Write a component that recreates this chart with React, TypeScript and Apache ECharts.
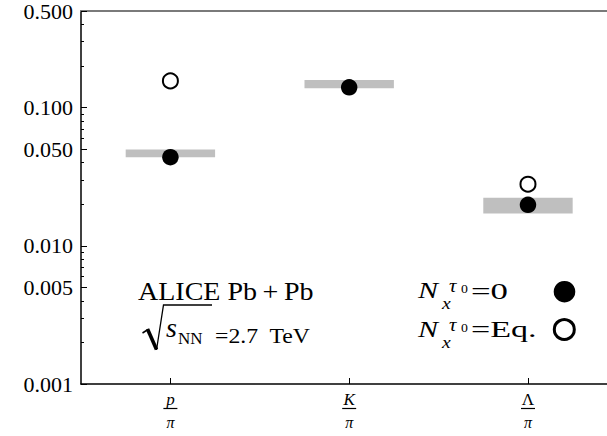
import React, { useEffect, useRef } from 'react';
import * as echarts from 'echarts';

const categories = ['p', 'K', 'Λ'];
const categoryItalic = [true, true, false];
const catX = [1, 2, 3];
const bandLow = [0.0437, 0.138, 0.0171];
const bandHigh = [0.0498, 0.1586, 0.0223];
const zeroInit = [0.0438, 0.1403, 0.0198];
const eqInit: (number | null)[] = [0.156, null, 0.0279];
const majorTicks = [0.001, 0.005, 0.01, 0.05, 0.1, 0.5];
const minorTicks = [0.002, 0.003, 0.004, 0.006, 0.007, 0.008, 0.009, 0.02, 0.03, 0.04, 0.06, 0.07, 0.08, 0.09, 0.2, 0.3, 0.4];

const SERIF = "'Liberation Serif', 'Times New Roman', serif";
const lg = (v: number) => Math.log10(v);
const X_MIN = 0.5;
const X_MAX = 3.442;
const Y_MIN = lg(0.001);
const Y_MAX = lg(0.5);

function txt(text: string, x: number, y: number, size: number, opts: any = {}) {
  return {
    type: 'text',
    x,
    y,
    scaleX: opts.scaleX ?? 1,
    z: 10,
    style: {
      text,
      fontFamily: SERIF,
      fontSize: size,
      fontStyle: opts.italic ? 'italic' : 'normal',
      fill: '#000',
      align: 'left',
      verticalAlign: 'middle',
    },
  };
}

function legendLine(dy: number, rhs: string, rhsScale: number) {
  return [
    txt('N', 418, 290.5 + dy, 24, { italic: true, scaleX: 1.25 }),
    txt('x', 442, 303.5 + dy, 17, { italic: true, scaleX: 1.15 }),
    txt('τ', 449, 286 + dy, 18, { italic: true, scaleX: 1.15 }),
    txt('0', 461, 289 + dy, 12, { scaleX: 1.15 }),
    txt(rhs, 471, 290.5 + dy, 24, { scaleX: rhsScale }),
  ];
}

export default function App() {
  const ref = useRef<HTMLDivElement>(null);
  useEffect(() => {
    const chart = echarts.init(ref.current!, null, { renderer: 'svg' });
    const bandData = catX.map((x, i) => [x, lg(bandLow[i]), lg(bandHigh[i])]);
    const zeroData = catX.map((x, i) => [x, lg(zeroInit[i])]);
    const eqData = catX.map((x, i) => (eqInit[i] == null ? [x, '-'] : [x, lg(eqInit[i] as number)]));

    const option: any = {
      animation: false,
      backgroundColor: '#fff',
      grid: { left: 81, top: 9, right: 0, bottom: 52, containLabel: false },
      xAxis: [
        {
          type: 'value',
          min: X_MIN,
          max: X_MAX,
          position: 'bottom',
          axisLine: { show: true, lineStyle: { color: '#000', width: 1.5 } },
          axisTick: { show: true, inside: true, length: 6, customValues: catX, lineStyle: { color: '#000', width: 1 } },
          splitLine: { show: false },
          axisLabel: {
            show: true,
            customValues: catX,
            margin: 8,
            formatter: (v: number) => {
              const i = catX.indexOf(Math.round(v));
              if (i < 0) return '';
              const st = categoryItalic[i] ? 'ni' : 'nu';
              return `{${st}|${categories[i]}}\n{bar| }\n{d|π}`;
            },
            rich: {
              ni: { fontFamily: SERIF, fontStyle: 'italic', fontSize: 17, lineHeight: 15, color: '#000', align: 'center' },
              nu: { fontFamily: SERIF, fontSize: 17, lineHeight: 15, color: '#000', align: 'center' },
              bar: { width: 14, height: 1.2, fontSize: 1, lineHeight: 3, backgroundColor: '#000', align: 'center' },
              d: { fontFamily: SERIF, fontStyle: 'italic', fontSize: 16, lineHeight: 24, color: '#000', align: 'center' },
            },
          },
        },
        {
          type: 'value',
          min: X_MIN,
          max: X_MAX,
          position: 'top',
          axisLine: { show: true, lineStyle: { color: '#7a7a7a', width: 2 } },
          axisTick: { show: false },
          axisLabel: { show: false },
          splitLine: { show: false },
        },
      ],
      yAxis: [
        {
          type: 'value',
          min: Y_MIN,
          max: Y_MAX,
          position: 'left',
          axisLine: { show: true, lineStyle: { color: '#000', width: 1.5 } },
          axisTick: { show: true, inside: true, length: 6, customValues: majorTicks.map(lg), lineStyle: { color: '#000', width: 1 } },
          axisLabel: {
            show: true,
            customValues: majorTicks.map(lg),
            margin: 8,
            fontFamily: SERIF,
            fontSize: 22,
            color: '#000',
            formatter: (v: number) => Math.pow(10, v).toFixed(3),
          },
          splitLine: { show: false },
        },
        {
          type: 'value',
          min: Y_MIN,
          max: Y_MAX,
          position: 'left',
          axisLine: { show: false },
          axisTick: { show: true, inside: true, length: 3, customValues: minorTicks.map(lg), lineStyle: { color: '#000', width: 1 } },
          axisLabel: { show: false },
          splitLine: { show: false },
        },
      ],
      series: [
        {
          type: 'custom',
          xAxisIndex: 0,
          yAxisIndex: 0,
          data: bandData,
          encode: { x: 0, y: [1, 2] },
          z: 1,
          renderItem: (params: any, api: any) => {
            const x = api.value(0);
            const p1 = api.coord([x - 0.25, api.value(2)]);
            const p2 = api.coord([x + 0.25, api.value(1)]);
            return {
              type: 'rect',
              shape: { x: p1[0], y: p1[1], width: p2[0] - p1[0], height: p2[1] - p1[1] },
              style: { fill: '#bfbfbf' },
            };
          },
        },
        {
          type: 'scatter',
          xAxisIndex: 0,
          yAxisIndex: 0,
          data: eqData,
          symbol: 'circle',
          symbolSize: 15,
          z: 3,
          itemStyle: { color: '#fff', borderColor: '#000', borderWidth: 2, opacity: 1 },
        },
        {
          type: 'scatter',
          xAxisIndex: 0,
          yAxisIndex: 0,
          data: zeroData,
          symbol: 'circle',
          symbolSize: 16.5,
          z: 4,
          itemStyle: { color: '#000', opacity: 1 },
        },
      ],
      graphic: [
        txt('ALICE Pb\u2009+\u2009Pb', 138, 291.5, 25, { scaleX: 1.12 }),
        txt('s', 166, 327.3, 28, { italic: true }),
        txt('NN', 178, 338, 17),
        txt('=2.7  TeV', 215, 336, 22, { scaleX: 1.08 }),
        { type: 'polyline', z: 10, shape: { points: [[142.5, 333], [148, 329.5]] }, style: { stroke: '#000', lineWidth: 1.5, fill: null } },
        { type: 'polyline', z: 10, shape: { points: [[147.5, 329], [156.5, 349.5]] }, style: { stroke: '#000', lineWidth: 3.6, fill: null } },
        { type: 'polyline', z: 10, shape: { points: [[156.5, 350], [163.5, 305], [212, 305]] }, style: { stroke: '#000', lineWidth: 1.3, fill: null } },
        ...legendLine(0, '=0', 1.45),
        ...legendLine(38.7, '=Eq.', 1.42),
        { type: 'circle', z: 10, shape: { cx: 564.5, cy: 291.7, r: 10.8 }, style: { fill: '#000' } },
        { type: 'circle', z: 10, shape: { cx: 564.3, cy: 329.5, r: 10 }, style: { fill: '#fff', stroke: '#000', lineWidth: 3 } },
      ],
    };
    chart.setOption(option);
    return () => chart.dispose();
  }, []);
  return <div ref={ref} style={{ position: 'fixed', left: 0, top: 0, width: 607, height: 436 }} />;
}
